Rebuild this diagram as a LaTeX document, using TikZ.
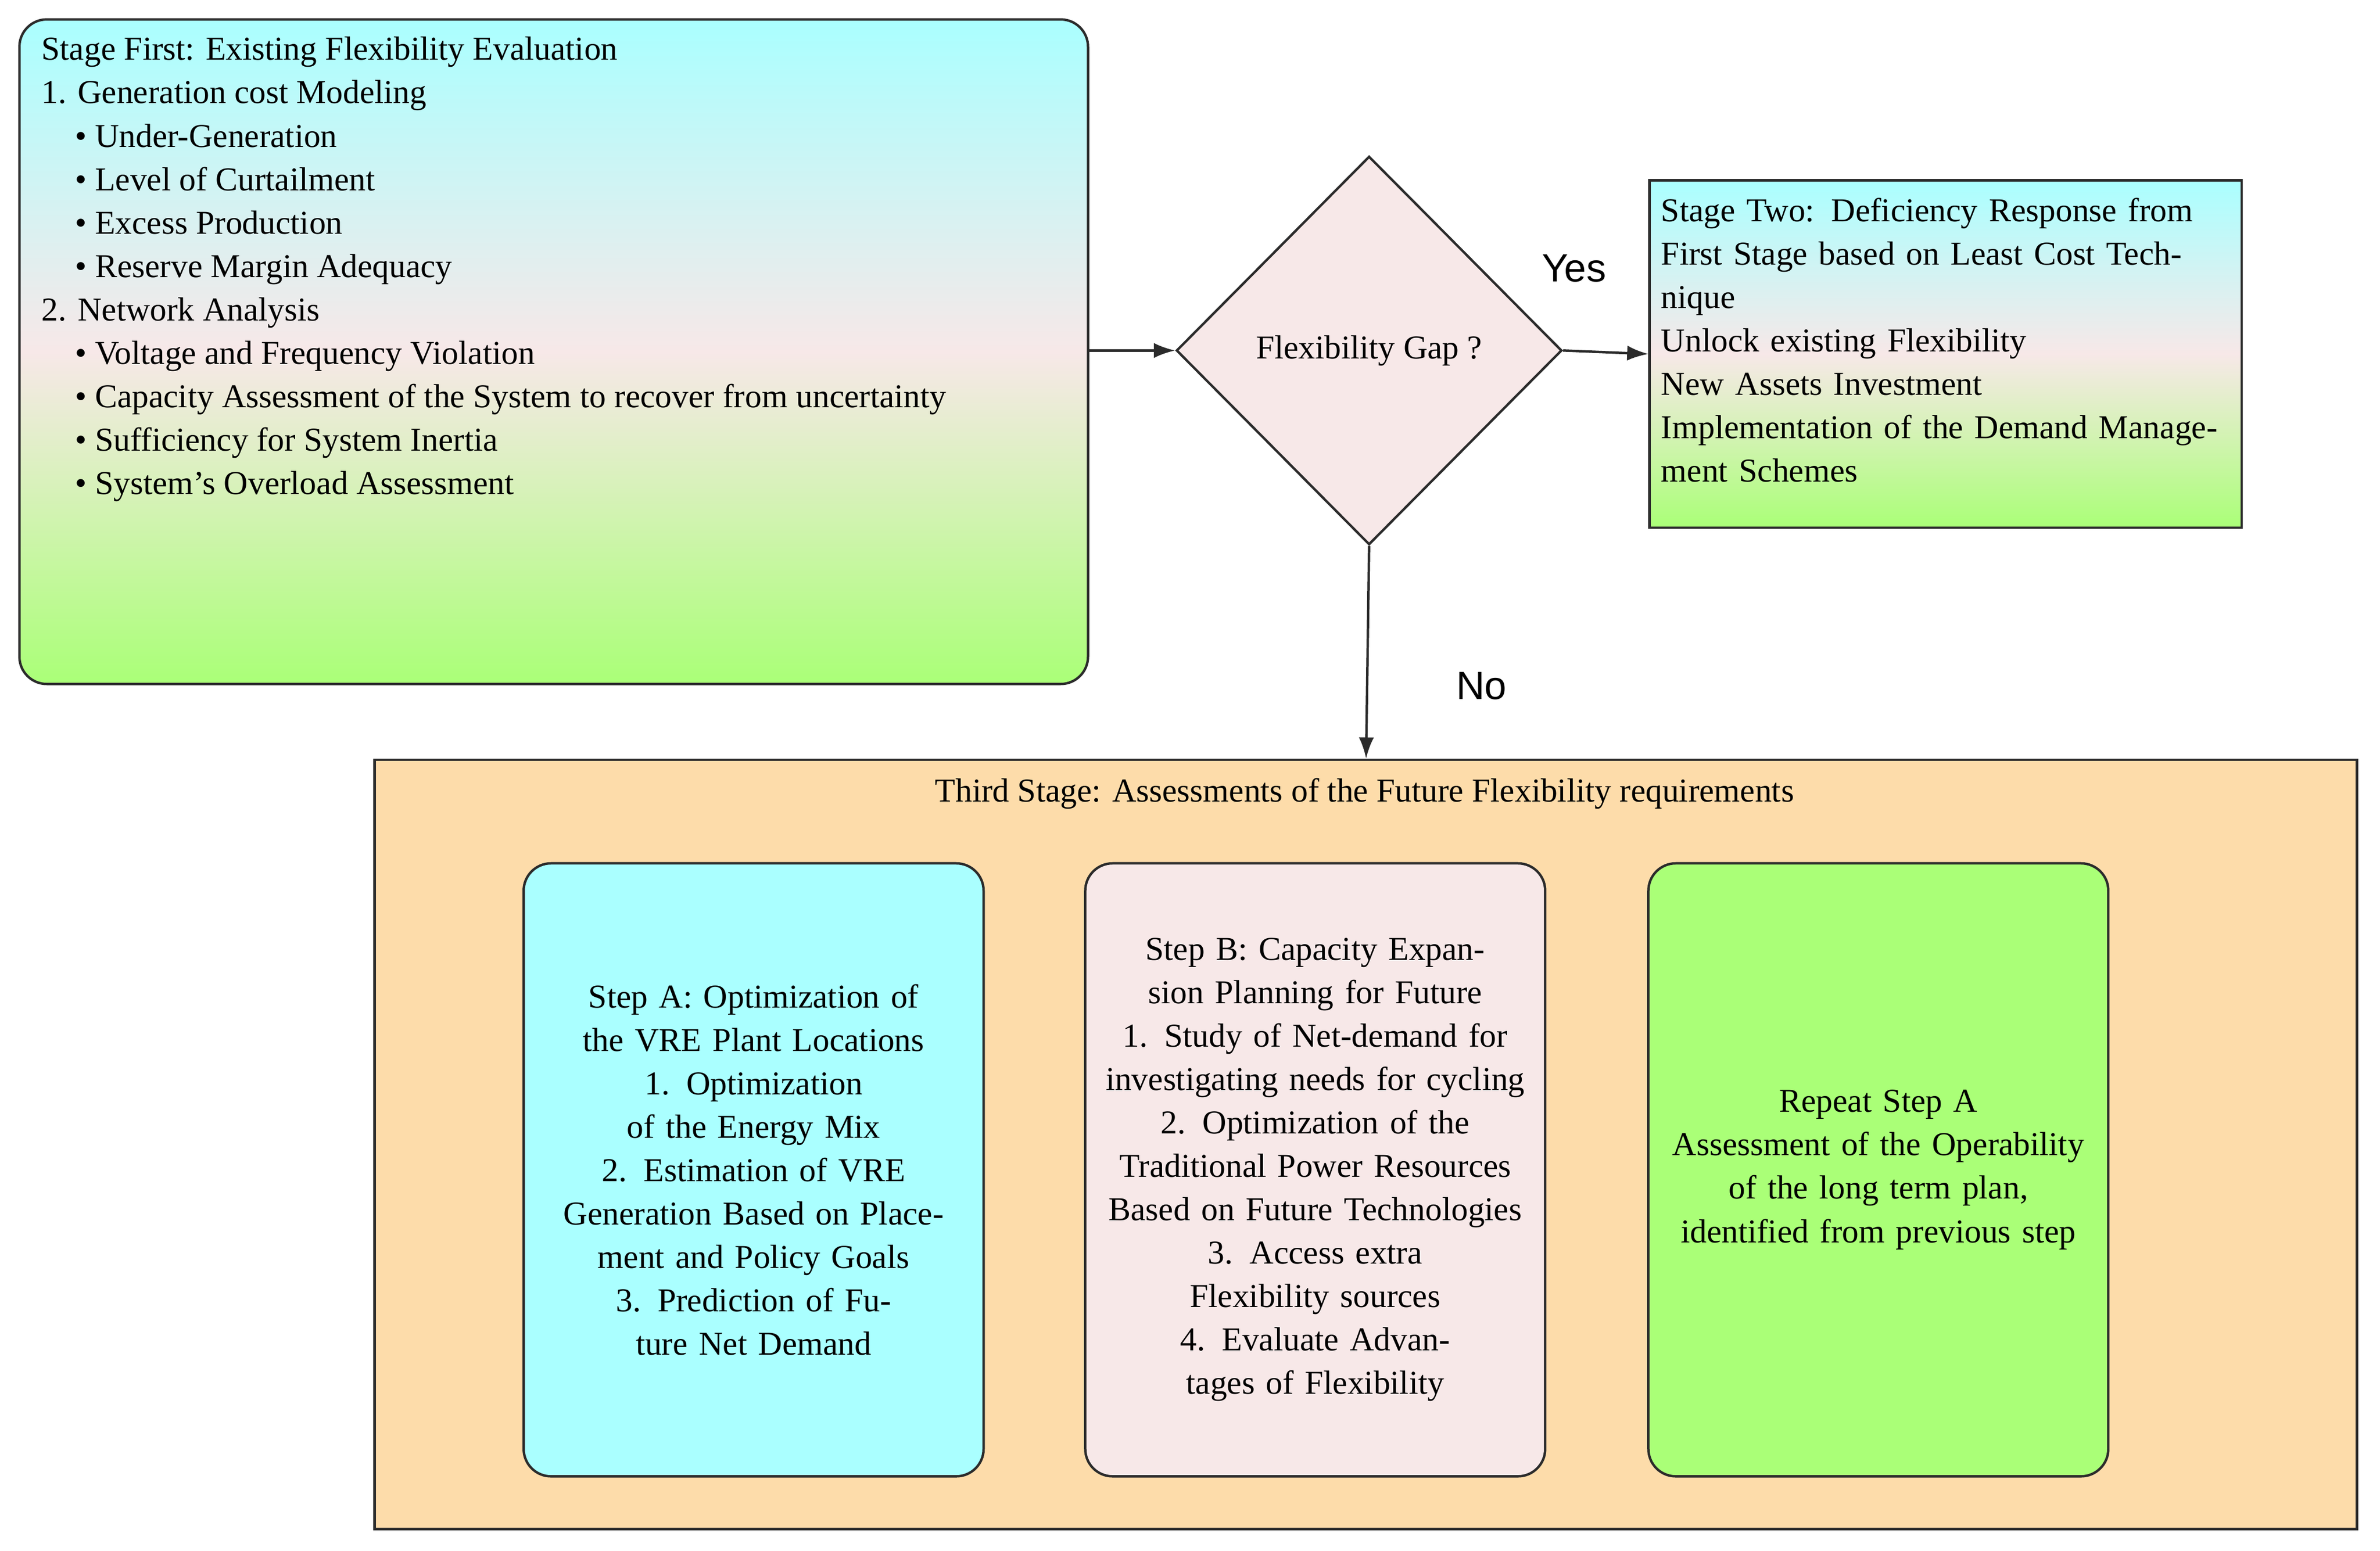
\documentclass[tikz,border=0pt]{standalone}
\usepackage{fontspec}
\setmainfont{Liberation Serif}
\newfontfamily\lsans{Liberation Sans}
\usetikzlibrary{shapes.geometric,arrows.meta}
\definecolor{cy}{HTML}{AAFFFF}
\definecolor{pk}{HTML}{F7E8E8}
\definecolor{gr}{HTML}{AAFF77}
\definecolor{or}{HTML}{FDDCAA}
\definecolor{ln}{HTML}{2B2B2B}
\begin{document}
\begin{tikzpicture}[x=0.5pt,y=-0.5pt,
  txt/.style={font=\fontsize{11}{14.3}\selectfont,inner sep=0pt},
  box/.style={draw=ln,line width=0.8pt},
  grad/.style={top color=cy,bottom color=gr,middle color=pk},
  arr/.style={draw=ln,line width=0.8pt,-{Latex[length=7pt,width=5pt]}},
  lab/.style={font=\lsans\fontsize{13}{15}\selectfont}]
\useasboundingbox (0,0) rectangle (1568,1022);
% Stage one
\node[box,grad,rounded corners=9pt,minimum width=352pt,minimum height=219pt,anchor=north west] (b1) at (12,12) {};
\node[txt,anchor=north west,align=left] (t1) at (27,24) {Stage First: Existing Flexibility Evaluation\\
1. Generation cost Modeling\\
\hspace*{11pt}• Under-Generation\\
\hspace*{11pt}• Level of Curtailment\\
\hspace*{11pt}• Excess Production\\
\hspace*{11pt}• Reserve Margin Adequacy\\
2. Network Analysis\\
\hspace*{11pt}• Voltage and Frequency Violation\\
\hspace*{11pt}• Capacity Assessment of the System to recover from uncertainty\\
\hspace*{11pt}• Sufficiency for System Inertia\\
\hspace*{11pt}• System's Overload Assessment};
% diamond
\node[box,diamond,fill=pk,minimum width=127pt,minimum height=128pt,inner sep=0pt,txt] (d) at (902,231) {Flexibility Gap ?};
% stage two
\node[box,grad,minimum width=195pt,minimum height=114.5pt,anchor=north west] (b2) at (1086,118) {};
\node[txt,anchor=north west,align=left,text width=190pt] (t2) at (1094,130) {Stage Two: Deficiency Response from First Stage based on Least Cost Technique\\
Unlock existing Flexibility\\
New Assets Investment\\
Implementation of the Demand Management Schemes};
% third stage
\node[box,fill=or,minimum width=653pt,minimum height=253.5pt,anchor=north west] (b3) at (246,500) {};
\node[txt] (t3) at (899,523) {Third Stage: Assessments of the Future Flexibility requirements};
\node[box,fill=cy,rounded corners=9pt,minimum width=151.5pt,minimum height=202pt,txt,text width=140pt,align=center] (sa) at (496.5,771) {Step A: Optimization of the VRE Plant Locations\\
1. Optimization of the Energy Mix\\
2. Estimation of VRE Generation Based on Placement and Policy Goals\\
3. Prediction of Future Net Demand};
\node[box,fill=pk,rounded corners=9pt,minimum width=151.5pt,minimum height=202pt,txt,text width=140pt,align=center] (sb) at (866.5,771) {Step B: Capacity Expansion Planning for Future\\
1. Study of Net-demand for investigating needs for cycling\\
2. Optimization of the Traditional Power Resources Based on Future Technologies\\
3. Access extra Flexibility sources\\
4. Evaluate Advantages of Flexibility};
\node[box,fill=gr,rounded corners=9pt,minimum width=151.5pt,minimum height=202pt,txt,text width=140pt,align=center] (sc) at (1237.5,771) {Repeat Step A\\
Assessment of the Operability of the long term plan, identified from previous step};
% arrows
\draw[arr] (b1.east |- d) -- (d.west);
\draw[arr] (d.east) -- (b2.west);
\draw[arr] (d.south) -- (900,500) coordinate (c3);
\node[lab] (yes) at (1037,177) {Yes};
\node[lab] (no) at (976,452) {No};
\end{tikzpicture}
\end{document}
